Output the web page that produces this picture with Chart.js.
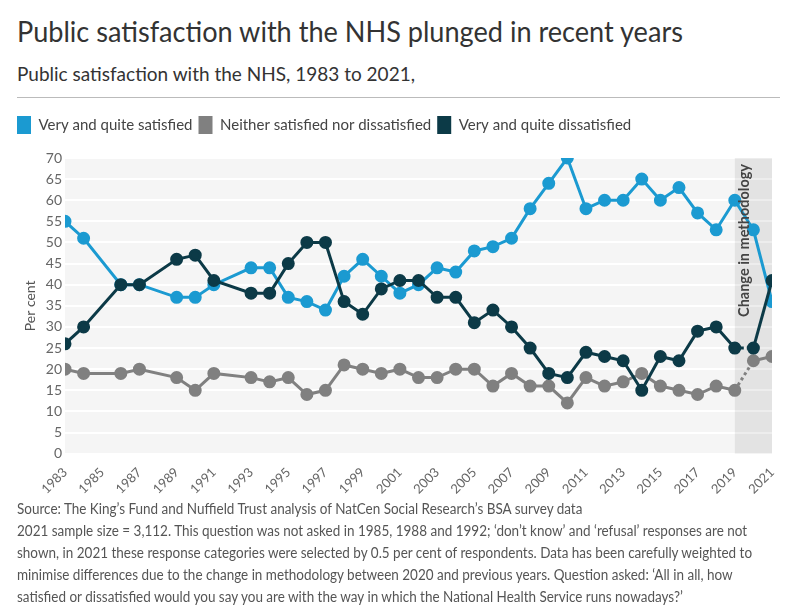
<!DOCTYPE html>
<html>
<head>
<meta charset="utf-8">
<script src="https://cdn.jsdelivr.net/npm/chart.js@4.4.0/dist/chart.umd.min.js"></script>
<style>
  body { margin: 0; background: #fff; font-family: Lato, sans-serif; }
  #page { position: relative; width: 796px; height: 608px; overflow: hidden; }
  .title { position: absolute; left: 17px; top: 14px; font-size: 28px; color: #333; white-space: nowrap; transform: scaleX(0.968); transform-origin: left; }
  .subtitle { position: absolute; left: 17px; top: 62px; font-size: 19px; color: #333; white-space: nowrap; }
  .rule { position: absolute; left: 17px; top: 97px; width: 763px; height: 1px; background: #bbb; }
  #box { position: absolute; left: 0; top: 110px; width: 796px; height: 390px; }
  .notes { position: absolute; left: 17px; top: 498px; font-size: 14.5px; line-height: 22px; color: #555; white-space: nowrap; transform: scaleX(0.93); transform-origin: left; }
</style>
</head>
<body>
<div id="page">
  <div class="title">Public satisfaction with the NHS plunged in recent years</div>
  <div class="subtitle">Public satisfaction with the NHS, 1983 to 2021,</div>
  <div class="rule"></div>
  <div id="box"><canvas id="myChart"></canvas></div>
  <div class="notes">Source: The King’s Fund and Nuffield Trust analysis of NatCen Social Research’s BSA survey data<br>2021 sample size = 3,112. This question was not asked in 1985, 1988 and 1992; ‘don’t know’ and ‘refusal’ responses are not<br>shown, in 2021 these response categories were selected by 0.5 per cent of respondents. Data has been carefully weighted to<br>minimise differences due to the change in methodology between 2020 and previous years. Question asked: ‘All in all, how<br>satisfied or dissatisfied would you say you are with the way in which the National Health Service runs nowadays?’</div>
</div>
<script>
const years = [1983, 1984, 1986, 1987, 1989, 1990, 1991, 1993, 1994, 1995, 1996, 1997, 1998, 1999, 2000, 2001, 2002, 2003, 2004, 2005, 2006, 2007, 2008, 2009, 2010, 2011, 2012, 2013, 2014, 2015, 2016, 2017, 2018, 2019, 2020, 2021];
const satisfied = [55, 51, 40, 40, 37, 37, 40, 44, 44, 37, 36, 34, 42, 46, 42, 38, 40, 44, 43, 48, 49, 51, 58, 64, 70, 58, 60, 60, 65, 60, 63, 57, 53, 60, 53, 36];
const neither = [20, 19, 19, 20, 18, 15, 19, 18, 17, 18, 14, 15, 21, 20, 19, 20, 18, 18, 20, 20, 16, 19, 16, 16, 12, 18, 16, 17, 19, 16, 15, 14, 16, 15, 22, 23];
const dissatisfied = [26, 30, 40, 40, 46, 47, 41, 38, 38, 45, 50, 50, 36, 33, 39, 41, 41, 37, 37, 31, 34, 30, 25, 19, 18, 24, 23, 22, 15, 23, 22, 29, 30, 25, 25, 41];
const seriesNames = ['Very and quite satisfied', 'Neither satisfied nor dissatisfied', 'Very and quite dissatisfied'];
const bandStart = 2019, bandEnd = 2021;
const bandLabel = 'Change in methodology';

const colours = ['#1b9ad1', '#808080', '#0c3a47'];

function points(vals) {
    return years.map((y, i) => ({ x: y, y: vals[i] }));
}

// dotted segment across the methodology change
const dotted = ctx => ctx.p0.parsed.x === 2019 ? [3, 3] : undefined;

function makeSet(label, vals, colour, order, dash) {
    return {
        label: label,
        data: points(vals),
        borderColor: colour,
        backgroundColor: colour,
        pointBackgroundColor: colour,
        pointBorderColor: colour,
        borderWidth: 3,
        pointRadius: 5,
        pointHoverRadius: 5,
        order: order,
        segment: dash ? { borderDash: dotted } : {}
    };
}

const plotBg = {
    id: 'plotBg',
    beforeInit(chart) {
        // extra room under the legend
        const fit = chart.legend.fit;
        chart.legend.fit = function () {
            fit.call(this);
            this.height += 14;
        };
    },
    afterLayout(chart) {
        chart.legend.left += 11;
        chart.legend.right += 11;
    },
    beforeDraw(chart) {
        const { ctx, chartArea: a } = chart;
        ctx.save();
        ctx.fillStyle = '#f5f5f5';
        ctx.fillRect(a.left, a.top, a.right - a.left, a.bottom - a.top);
        ctx.restore();
    },
    beforeDatasetsDraw(chart) {
        const { ctx, chartArea: a, scales } = chart;
        const x0 = scales.x.getPixelForValue(bandStart);
        const x1 = scales.x.getPixelForValue(bandEnd);
        ctx.save();
        ctx.fillStyle = 'rgba(0,0,0,0.07)';
        ctx.fillRect(x0, a.top, x1 - x0, a.bottom - a.top);
        ctx.restore();
    },
    afterDatasetsDraw(chart) {
        const { ctx, chartArea: a, scales } = chart;
        const x0 = scales.x.getPixelForValue(bandStart);
        ctx.save();
        ctx.translate(x0 + 10, a.top + 6);
        ctx.rotate(-Math.PI / 2);
        ctx.fillStyle = '#444';
        ctx.font = 'bold 14.5px Lato';
        ctx.textAlign = 'right';
        ctx.textBaseline = 'middle';
        ctx.fillText(bandLabel, 0, 0);
        ctx.restore();
    }
};

const data = {
    datasets: [
        makeSet(seriesNames[0], satisfied, colours[0], 2, false),
        makeSet(seriesNames[1], neither, colours[1], 1, true),
        makeSet(seriesNames[2], dissatisfied, colours[2], 0, true)
    ]
};

const config = {
    type: 'line',
    data: data,
    options: {
        responsive: true,
        maintainAspectRatio: false,
        animation: false,
        layout: { padding: { left: 0, right: 24, top: 0, bottom: 0 } },
        plugins: {
            legend: {
                align: 'start',
                labels: {
                    boxWidth: 14,
                    boxHeight: 18,
                    padding: 6,
                    color: '#444',
                    font: { family: 'Lato', size: 15 },
                    generateLabels: chart => chart.data.datasets.map((d, i) => ({
                        text: d.label,
                        fillStyle: d.borderColor,
                        strokeStyle: d.borderColor,
                        lineWidth: 0,
                        fontColor: '#444',
                        datasetIndex: i
                    }))
                }
            },
            tooltip: { enabled: false }
        },
        scales: {
            x: {
                type: 'linear',
                min: 1983,
                max: 2021,
                grid: { display: false },
                border: { display: false },
                ticks: {
                    stepSize: 2,
                    maxRotation: 45,
                    minRotation: 45,
                    color: '#666',
                    font: { family: 'Lato', size: 13 },
                    callback: v => String(v)
                }
            },
            y: {
                min: 0,
                max: 70,
                afterFit: s => { s.width = 65; },
                grid: { color: '#ffffff', lineWidth: 2, drawTicks: false },
                border: { display: false },
                title: { display: true, text: 'Per cent', color: '#555', padding: { top: 22, bottom: 0 }, font: { family: 'Lato', size: 14 } },
                ticks: {
                    stepSize: 5,
                    padding: 3,
                    color: '#666',
                    font: { family: 'Lato', size: 14 }
                }
            }
        }
    },
    plugins: [plotBg]
};

const myChart = new Chart(document.querySelector('#myChart'), config);
</script>
</body>
</html>
